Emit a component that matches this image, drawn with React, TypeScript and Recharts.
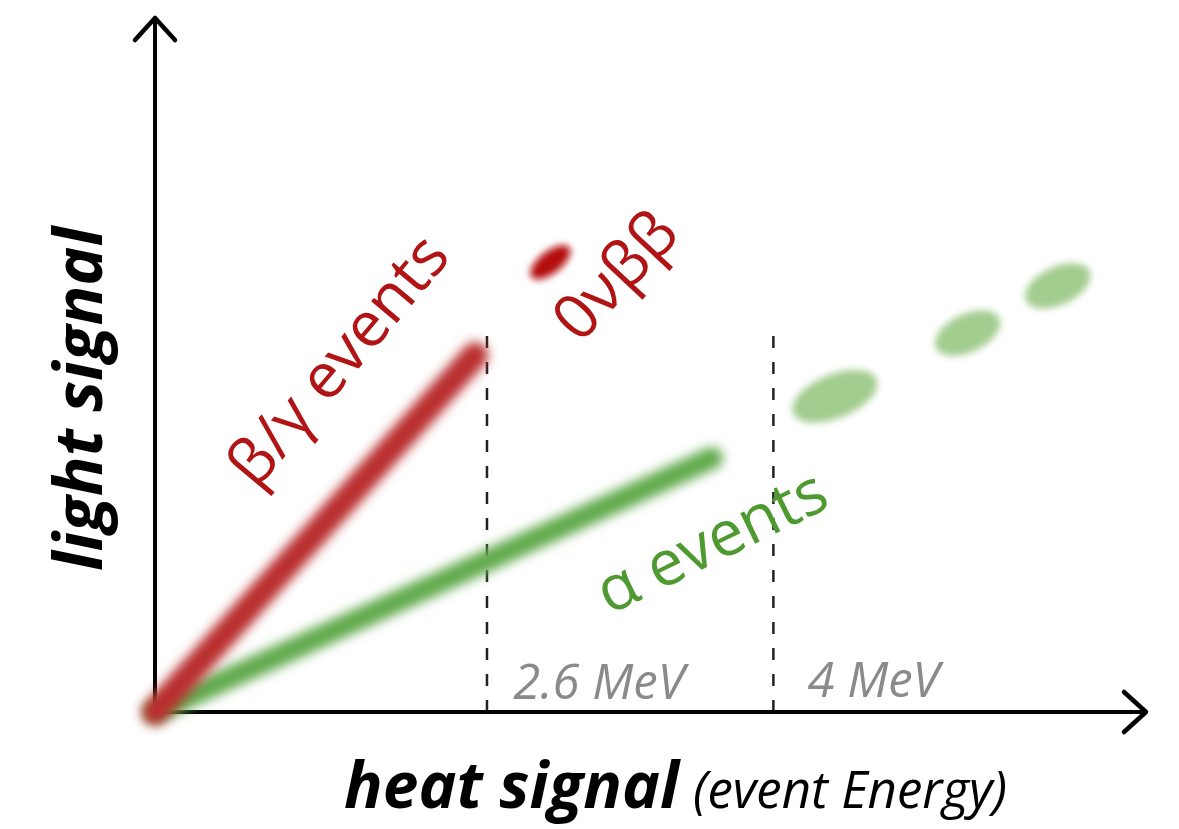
import React from 'react';
import { ComposedChart, XAxis, YAxis, Line, Scatter, ReferenceLine } from 'recharts';

// ---- data (arbitrary units, 0..10 on each axis) ----
const betaGammaBand = [
  { x: 0, y: 0 },
  { x: 3.23, y: 5.14 },
];
const alphaBand = [
  { x: 0, y: 0 },
  { x: 5.62, y: 3.66 },
];
const zeroNuBBSpot = [{ x: 3.99, y: 6.48 }];
const alphaSpots = [
  { x: 6.86, y: 4.55 },
  { x: 8.2, y: 5.46 },
  { x: 9.11, y: 6.14 },
];
const thresholdX = [3.35, 6.24];
const thresholdTop = [5.58, 5.62];
const annotations = [
  { x: 1.82, y: 5.1, text: 'β/γ events' },
  { x: 4.62, y: 6.32, text: '0νββ' },
  { x: 5.6, y: 2.5, text: 'α events' },
  { x: 4.48, y: 0.46, text: '2.6 MeV' },
  { x: 7.25, y: 0.49, text: '4 MeV' },
];
const axisMax = 10;
const xTitle = 'heat signal';
const xSubTitle = '(event Energy)';
const yTitle = 'light signal';

// ---- styles ----
const FONT = '"Open Sans", "DejaVu Sans", sans-serif';
const annotationStyle = [
  { angle: -50, size: 63, color: '#b01414', italic: false },
  { angle: -47, size: 63, color: '#b01414', italic: false },
  { angle: -26, size: 63, color: '#4f9a30', italic: false },
  { angle: 0, size: 49, color: '#8a8a8a', italic: true },
  { angle: 0, size: 49, color: '#8a8a8a', italic: true },
];
const redSpotShape = [{ rx: 24, ry: 11, angle: -38 }];
const greenSpotShape = [
  { rx: 45, ry: 22, angle: -22 },
  { rx: 35, ry: 19, angle: -25 },
  { rx: 35, ry: 19, angle: -25 },
];

const AnnotationShape = (props: any) => {
  const { cx, cy, index } = props;
  const s = annotationStyle[index];
  const a = annotations[index];
  return (
    <text
      x={cx}
      y={cy}
      transform={`rotate(${s.angle} ${cx} ${cy})`}
      textAnchor="middle"
      dominantBaseline="central"
      fontFamily={FONT}
      fontSize={s.size}
      fontStyle={s.italic ? 'italic' : 'normal'}
      fill={s.color}
    >
      {a.text}
    </text>
  );
};

const makeSpot = (shapes: any[], color: string, filterId: string) => (props: any) => {
  const { cx, cy, index } = props;
  const s = shapes[index];
  return (
    <ellipse
      cx={cx}
      cy={cy}
      rx={s.rx}
      ry={s.ry}
      fill={color}
      filter={`url(#${filterId})`}
      transform={`rotate(${s.angle} ${cx} ${cy})`}
    />
  );
};

const XAxisShape = (props: any) => {
  const { x1, y1, x2, y2 } = props;
  const cx = (x1 + x2) / 2 + 25;
  return (
    <g>
      <line x1={x1} y1={y1} x2={x2} y2={y2} stroke="#000" strokeWidth={4} markerEnd="url(#arrowHead)" />
      <text x={cx} y={y1 + 96} textAnchor="middle" fontFamily={FONT} fill="#000">
        <tspan fontSize={64} fontWeight="bold" fontStyle="italic">{xTitle}</tspan>
        <tspan fontSize={51} fontStyle="italic" dx={14}>{xSubTitle}</tspan>
      </text>
    </g>
  );
};

const YAxisShape = (props: any) => {
  const { x1, y1, x2, y2 } = props;
  const tx = x1 - 53;
  const ty = (y1 + y2) / 2 + 34;
  return (
    <g>
      <line x1={x1} y1={y1} x2={x2} y2={y2} stroke="#000" strokeWidth={4} markerEnd="url(#arrowHead)" />
      <text
        x={tx}
        y={ty}
        transform={`rotate(-90 ${tx} ${ty})`}
        textAnchor="middle"
        fontFamily={FONT}
        fontSize={66}
        fontWeight="bold"
        fontStyle="italic"
        fill="#000"
      >
        {yTitle}
      </text>
    </g>
  );
};

export default function App() {
  return (
    <div style={{ position: 'absolute', left: 0, top: 0, background: '#fff' }}>
      <ComposedChart
        width={1179}
        height={829}
        margin={{ top: 18, left: 155, right: 33, bottom: 117 }}
      >
        <defs>
          <filter id="blurBand" x="-20%" y="-20%" width="140%" height="140%">
            <feGaussianBlur stdDeviation="5.5" />
          </filter>
          <filter id="blurSpot" x="-50%" y="-50%" width="200%" height="200%">
            <feGaussianBlur stdDeviation="3.5" />
          </filter>
          <marker
            id="arrowHead"
            markerUnits="userSpaceOnUse"
            markerWidth={40}
            markerHeight={50}
            refX={26}
            refY={24}
            orient="auto"
            style={{ overflow: 'visible' }}
          >
            <path d="M4,4 L26,24 L4,44" fill="none" stroke="#000" strokeWidth={4.5} strokeLinecap="round" strokeLinejoin="round" />
          </marker>
        </defs>
        <XAxis type="number" dataKey="x" domain={[0, axisMax]} hide />
        <YAxis type="number" dataKey="y" domain={[0, axisMax]} hide />
        {thresholdX.map((tx, i) => (
          <ReferenceLine
            key={`th${i}`}
            segment={[
              { x: tx, y: 0 },
              { x: tx, y: thresholdTop[i] },
            ]}
            stroke="#222"
            strokeWidth={2.5}
            strokeDasharray="12 14"
          />
        ))}
        <ReferenceLine
          segment={[
            { x: 0, y: 0 },
            { x: axisMax, y: 0 },
          ]}
          shape={XAxisShape}
          ifOverflow="visible"
        />
        <ReferenceLine
          segment={[
            { x: 0, y: 0 },
            { x: 0, y: axisMax },
          ]}
          shape={YAxisShape}
          ifOverflow="visible"
        />
        <Line
          data={alphaBand}
          dataKey="y"
          stroke="#62aa4e"
          strokeWidth={22}
          strokeLinecap="round"
          dot={false}
          activeDot={false}
          filter="url(#blurBand)"
          isAnimationActive={false}
        />
        <Line
          data={betaGammaBand}
          dataKey="y"
          stroke="#b92d2e"
          strokeWidth={26}
          strokeLinecap="round"
          dot={false}
          activeDot={false}
          filter="url(#blurBand)"
          isAnimationActive={false}
        />
        <Scatter
          data={zeroNuBBSpot}
          shape={makeSpot(redSpotShape, '#b30a0a', 'blurSpot')}
          isAnimationActive={false}
        />
        <Scatter
          data={alphaSpots}
          shape={makeSpot(greenSpotShape, '#a3cc8f', 'blurSpot')}
          isAnimationActive={false}
        />
        <Scatter data={annotations} shape={AnnotationShape} isAnimationActive={false} />
      </ComposedChart>
    </div>
  );
}
